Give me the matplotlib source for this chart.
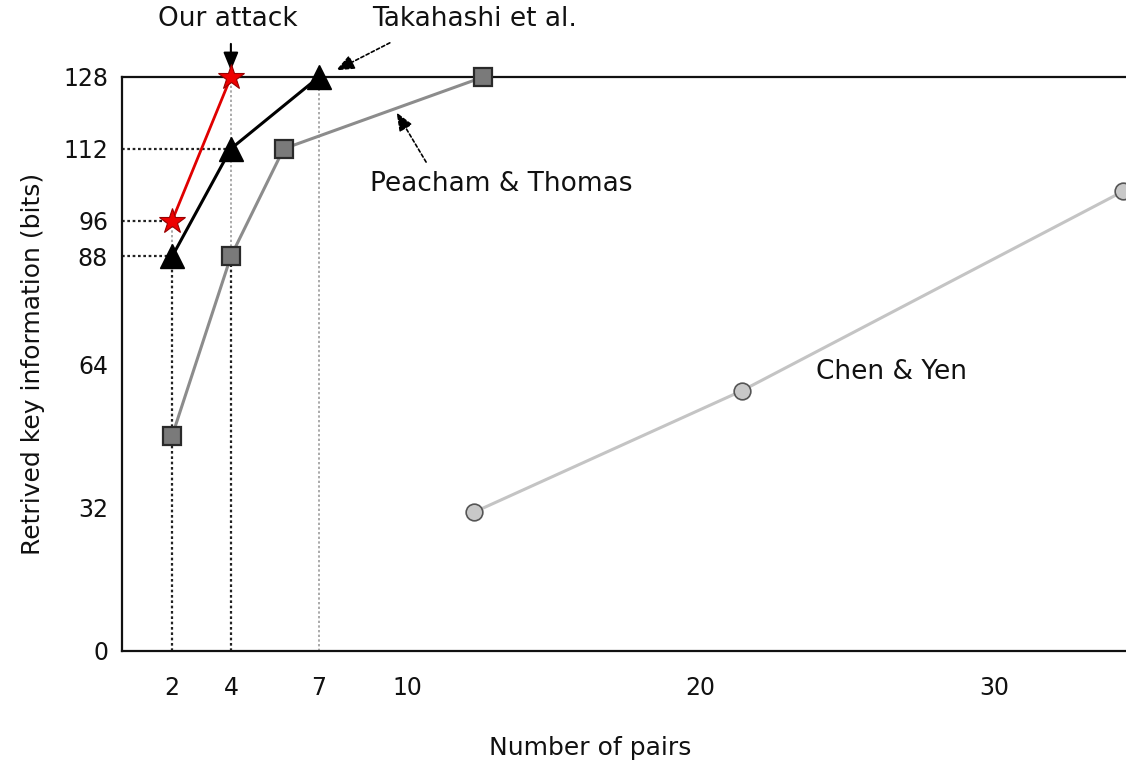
import matplotlib
matplotlib.use("Agg")
import matplotlib.pyplot as plt

plt.rcParams['font.family'] = ['DejaVu Sans']

# Series: number of pairs vs. retrieved key bits
ours_x = [2, 4]
ours_y = [96, 128]

takahashi_x = [2, 4, 7]
takahashi_y = [88, 112, 128]

peacham_x = [2, 4, 5.8, 12.6]
peacham_y = [48, 88, 112, 128]

chen_x = [12.3, 21.4, 34.4]
chen_y = [31, 58, 102.5]

x_ticks = [2, 4, 7, 10, 20, 30]
y_ticks = [0, 32, 64, 88, 96, 112, 128]

W, H = 1126, 768
fig = plt.figure(figsize=(W / 100, H / 100), dpi=100)
ax_w = 1 - 122 / W
ax = fig.add_axes([122 / W, 1 - 651 / H, ax_w, (651 - 77) / H])
ax.set_xlim(0.29, 34.5)
ax.set_ylim(0, 128)

# guide lines from the axes to key points
dot_dark = dict(color='#222222', lw=1.6, ls=(0, (1.2, 1.2)), zorder=1)
dot_light = dict(color='#aaaaaa', lw=1.4, ls=(0, (1.2, 1.2)), zorder=1)
ax.plot([2, 2], [0, 88], **dot_dark)
ax.plot([2, 2], [88, 96], **dot_light)
ax.plot([4, 4], [0, 88], **dot_dark)
ax.plot([4, 4], [88, 128], **dot_light)
ax.plot([7, 7], [0, 128], **dot_light)
ax.plot([0.29, 2], [88, 88], **dot_dark)
ax.plot([0.29, 2], [96, 96], **dot_dark)
ax.plot([0.29, 4], [112, 112], **dot_dark)

ax.plot(chen_x, chen_y, color='#c4c4c4', lw=2.2, marker='o', ms=12,
        mfc='#c8c8c8', mec='#555555', mew=1.2, clip_on=False, zorder=2)
ax.plot(peacham_x, peacham_y, color='#8c8c8c', lw=2.2, marker='s', ms=13,
        mfc='#7a7a7a', mec='#2a2a2a', mew=1.6, clip_on=False, zorder=3)
ax.plot(takahashi_x, takahashi_y, color='black', lw=2.2, marker='^', ms=17,
        mfc='black', mec='black', clip_on=False, zorder=4)
ax.plot(ours_x, ours_y, color='#e00000', lw=2.0, marker='*', ms=19,
        mfc='#ee0000', mec='#990000', mew=0.8, clip_on=False, zorder=5)

ax.set_xticks(x_ticks)
ax.set_yticks(y_ticks)
ax.tick_params(length=0, labelsize=17, colors='#111111')
ax.tick_params(axis='x', pad=18)
ax.tick_params(axis='y', pad=10)

for side in ['left', 'bottom', 'top']:
    ax.spines[side].set_linewidth(1.6)
    ax.spines[side].set_color('#111111')
ax.spines['right'].set_visible(False)

ax.set_ylabel('Retrived key information (bits)', fontsize=18, color='#111111')
ax.yaxis.set_label_coords((45 - 122) / (ax_w * W), 0.5)
fig.text(590 / W, 1 - 748 / H, 'Number of pairs', fontsize=18,
         color='#111111', ha='center', va='center')

# series labels with pointer arrows
txt = dict(fontsize=19, color='#111111', ha='center', va='center')
ax.text(3.9, 141.0, 'Our attack', clip_on=False, **txt)
ax.text(12.3, 141.0, 'Takahashi et al.', clip_on=False, **txt)
ax.text(13.2, 104.2, 'Peacham & Thomas', **txt)
ax.text(26.5, 62.3, 'Chen & Yen', **txt)

head = '-|>,head_length=1.1,head_width=0.45'
ax.annotate('', xy=(4, 128.8), xytext=(4, 136.0), annotation_clip=False,
            arrowprops=dict(arrowstyle=head, color='black', lw=1.5))
ax.annotate('', xy=(7.5, 129.2), xytext=(9.5, 135.9), annotation_clip=False,
            arrowprops=dict(arrowstyle=head, color='black', lw=1.2,
                            ls=(0, (2, 1.5))))
ax.annotate('', xy=(9.6, 120.6), xytext=(10.7, 108.5), annotation_clip=False,
            arrowprops=dict(arrowstyle=head, color='black', lw=1.2,
                            ls=(0, (2, 1.5))))

fig.savefig('out.png', dpi=100)
